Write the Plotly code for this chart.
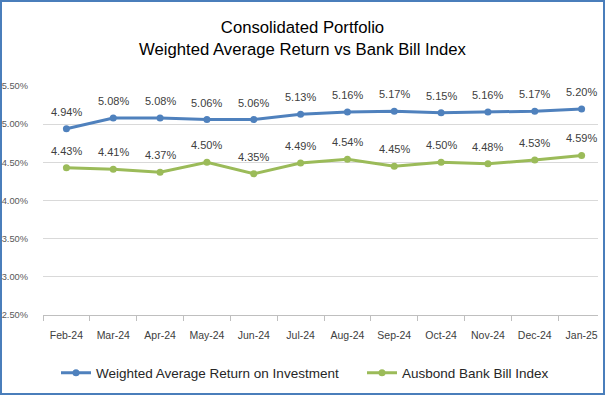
import plotly.graph_objects as go

months = ["Feb-24", "Mar-24", "Apr-24", "May-24", "Jun-24", "Jul-24",
          "Aug-24", "Sep-24", "Oct-24", "Nov-24", "Dec-24", "Jan-25"]
weighted_return = [4.94, 5.08, 5.08, 5.06, 5.06, 5.13, 5.16, 5.17, 5.15, 5.16, 5.17, 5.20]
bank_bill_index = [4.43, 4.41, 4.37, 4.50, 4.35, 4.49, 4.54, 4.45, 4.50, 4.48, 4.53, 4.59]
series_names = ["Weighted Average Return on Investment", "Ausbond Bank Bill Index"]
y_ticks = [2.5, 3.0, 3.5, 4.0, 4.5, 5.0, 5.5]

BLUE = "#4F81BD"
GREEN = "#9BBB59"
FONT = "Liberation Sans, Arial, sans-serif"

W, H = 605, 395
ML, MR, MT, MB = 43, 7, 86, 80

fig = go.Figure()
for name, vals, col, lg in [(series_names[0], weighted_return, BLUE, "legend"),
                            (series_names[1], bank_bill_index, GREEN, "legend2")]:
    fig.add_trace(go.Scatter(
        x=months, y=vals, name=name, mode="lines+markers",
        line=dict(color=col, width=3),
        marker=dict(color=col, size=7),
        legend=lg,
    ))
    for m, v in zip(months, vals):
        fig.add_annotation(x=m, y=v, text=f"{v:.2f}%", showarrow=False,
                           yshift=17, font=dict(size=11, color="#404040", family=FONT))

pw = W - ML - MR
ph = H - MT - MB
fig.add_shape(type="rect", xref="paper", yref="paper",
              x0=(1 - ML) / pw, x1=(W - 1 - ML) / pw,
              y0=-(H - 1 - MT - ph) / ph, y1=1 + (MT - 1) / ph,
              line=dict(color="#4A7EBB", width=2), layer="below")

legend_common = dict(orientation="h", xref="container", yref="container",
                     xanchor="left", yanchor="middle", y=1 - 373 / H,
                     font=dict(size=13.5, color="#262626"), itemwidth=30,
                     bgcolor="rgba(0,0,0,0)")

fig.update_layout(
    width=W, height=H,
    margin=dict(l=ML, r=MR, t=MT, b=MB, autoexpand=False),
    paper_bgcolor="white", plot_bgcolor="white",
    font=dict(family=FONT, color="#404040"),
    title=dict(text="Consolidated Portfolio<br>Weighted Average Return vs Bank Bill Index",
               x=0.5, xref="container", xanchor="center", y=1 - 33 / H, yanchor="middle",
               font=dict(size=16.7, color="#000000", family=FONT)),
    xaxis=dict(type="category", range=[-0.5, 11.35], showgrid=False, automargin=False,
               showline=True, linecolor="#BFBFBF", linewidth=1,
               ticks="outside", tickson="boundaries", ticklen=5, tickcolor="#BFBFBF",
               tickfont=dict(size=10.5, color="#404040"), ticklabelstandoff=10),
    yaxis=dict(range=[2.5, 5.5], tickvals=y_ticks, automargin=False,
               ticktext=[f"{t:.2f}%" for t in y_ticks],
               showgrid=True, gridcolor="#D9D9D9", gridwidth=1, zeroline=False,
               showline=False, tickfont=dict(size=9.3, color="#595959"),
               ticklabelstandoff=14),
    showlegend=True,
    legend=dict(x=56 / W, **legend_common),
    legend2=dict(x=362 / W, **legend_common),
)

post = ("document.documentElement.style.margin='0';document.body.style.margin='0';"
        "document.body.style.padding='0';document.body.style.overflow='hidden';"
        "var d=document.getElementById('{plot_id}');"
        "d.style.position='fixed';d.style.left='0px';d.style.top='0px';")

fig.write_html("out.html", post_script=post, config={"displayModeBar": False})
